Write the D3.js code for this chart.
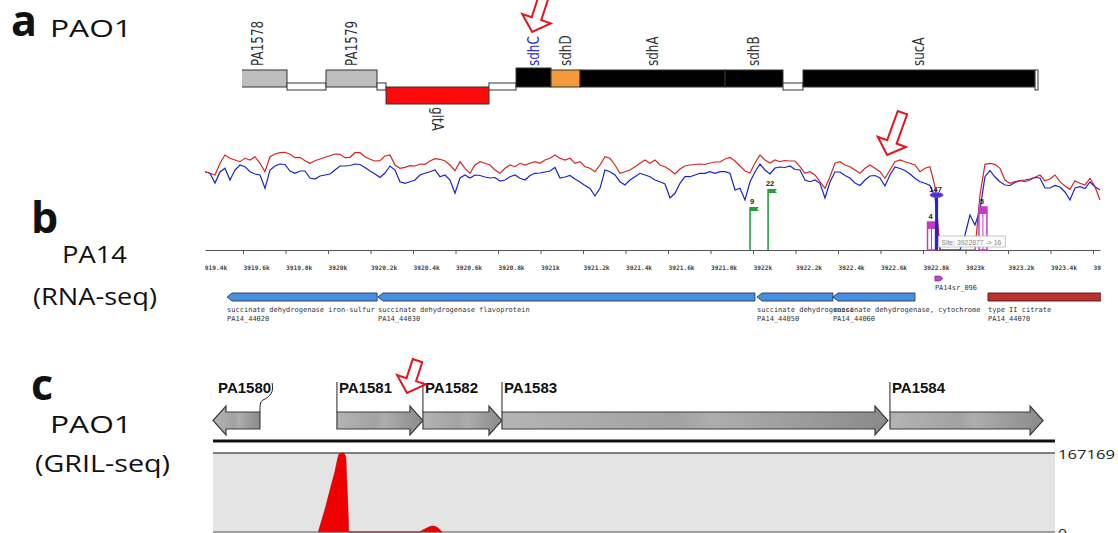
<!DOCTYPE html>
<html>
<head>
<meta charset="utf-8">
<script src="https://cdn.jsdelivr.net/npm/d3@7"></script>
<style>
  html, body { margin: 0; padding: 0; background: #fff; }
  svg { display: block; }
</style>
</head>
<body>
<svg id="fig" width="1118" height="533"></svg>
<script>
// ===== Panel a: PAO1 locus (bp from the left edge of the window) =====
const locusNames  = ["PA1578", "", "PA1579", "", "gltA", "", "sdhC", "sdhD", "sdhA", "sdhB", "", "sucA", ""];
const locusStart  = [-180, 549, 1025, 1647, 1757, 3013, 3343, 3770, 4124, 5893, 6600, 6844, 9675];
const locusEnd    = [549, 1025, 1647, 1757, 3013, 3343, 3770, 4124, 5893, 6600, 6844, 9675, 9711];
const locusStrand = ["+", "ig", "+", "ig", "-", "ig", "+", "+", "+", "+", "ig", "+", "end"];
const locusMarked = "sdhC";

// ===== Panel b: PA14 RNA-seq coverage (two libraries) =====
const covStart = 3919421;   // first sampled coordinate (bp)
const covStep  = 23.53;     // bp between samples
const covRed = [
  78.3, 76.7, 75, 86.7, 95, 91.7, 90, 88.3, 91.7, 90,
  93.3, 86.7, 78.3, 93.3, 96, 97.3, 97.7, 95.7, 92.3, 92.7,
  89.3, 86.7, 89.3, 91, 92.7, 94.3, 96, 95.7, 92.3, 92.7,
  97.3, 97.3, 93.3, 90.7, 89, 89.3, 94, 95, 85, 81.7,
  82.7, 84.3, 84, 86, 85.7, 89, 91.3, 90.7, 89, 85,
  79.3, 88.3, 81.7, 76.7, 85, 88.3, 86.7, 85, 80, 76.7,
  81.7, 85, 83.3, 86.7, 85, 86.7, 88.3, 86.7, 90, 91.7,
  95, 91.7, 90, 91.7, 86.7, 88.3, 83.3, 81.7, 78.3, 85,
  93.3, 91.7, 85, 76.7, 78.3, 80, 83.3, 86.7, 90, 86.7,
  90, 85, 83.3, 80, 76, 81, 84, 85, 85.5, 86,
  85.5, 87, 88, 88, 91, 92.5, 89, 84, 79, 77,
  87, 95, 90, 87, 90, 88.3, 89.5, 89, 89, 83.3,
  76.7, 78.3, 75, 68.3, 61.7, 73.3, 86.7, 88.3, 85, 83.3,
  80, 76.7, 81.7, 85, 81.7, 78.3, 71.7, 80, 88.3, 90,
  88.3, 86.7, 85, 78.3, 81.7, 83.3, 63.3, 0, 0, 0,
  0, 0, 0, 0, 0, 55, 85.7, 86.7, 85.7, 81.7,
  70, 66.7, 68.3, 69.3, 68.3, 70, 72.7, 75, 69.3, 71,
  75, 68.3, 64, 60.7, 69.3, 66.7, 65, 71.7, 63.3, 50
];
const covBlue = [
  78.3, 76.7, 67, 78, 81.7, 70, 80, 85, 83.3, 78.3,
  76, 75, 61.7, 80, 84, 86, 85.5, 79, 76.7, 79,
  79, 72, 71, 74, 75, 76, 80, 84, 84, 84.5,
  86, 85.5, 82.5, 79, 76, 72.5, 77, 84, 80, 68.3,
  66.7, 68.3, 70, 75, 76.7, 78.3, 80, 73.3, 75, 70,
  56.7, 72, 75, 72, 75, 74.5, 73, 72, 72.5, 69,
  70, 73.3, 75, 71.7, 70, 74.5, 76.7, 77, 78, 79,
  82.5, 72, 73, 74.5, 71, 68, 64.5, 61.5, 54, 61.7,
  80, 78.3, 75, 68.3, 65, 70, 73.3, 76.7, 75, 73.3,
  70, 68.3, 66, 52, 56.7, 66.7, 73.3, 73.3, 75, 76.7,
  76.7, 78.3, 76.7, 78.3, 78.3, 76.7, 60, 61.7, 50, 68,
  78, 86, 80, 76, 82, 83, 82.5, 84, 80.5, 80,
  70, 68.3, 70, 66.7, 52, 68, 78, 78, 74.5, 72,
  67, 64.5, 70, 74, 74.5, 72, 64, 75, 83, 81.5,
  79.5, 76, 71.7, 68.3, 66.7, 64.5, 53.3, 0, 0, 0,
  0, 0, 15, 35, 25, 40, 73.3, 79.5, 73, 68.3,
  65, 64.5, 67.5, 69.5, 70, 71, 72.5, 72, 62, 62,
  64.5, 63, 58, 50, 62, 63.3, 61.5, 68, 63.3, 60
];
const coordTicks = [3919400, 3919600, 3919800, 3920000, 3920200, 3920400, 3920600,
  3920800, 3921000, 3921200, 3921400, 3921600, 3921800, 3922000, 3922200, 3922400,
  3922600, 3922800, 3923000, 3923200, 3923400, 3923600];

// read-start sites: position, label, stem height (coverage units), kind
const sitePos    = [3921986, 3922071, 3922840, 3922864, 3923082];
const siteLabel  = ["9", "22", "4", "147", "5"];
const siteHeight = [43, 61, 28, 55, 43];
const siteKind   = ["fwd", "fwd", "rev", "peak", "rev"];
const hoverSite  = "Site: 3922877 -> 16";

// annotated PA14 genes
const pa14Id     = ["PA14_44020", "PA14_44030", "PA14_44050", "PA14_44060", "PA14_44070"];
const pa14Desc   = ["succinate dehydrogenase iron-sulfur", "succinate dehydrogenase flavoprotein",
                    "succinate dehydrogenase", "succinate dehydrogenase, cytochrome", "type II citrate"];
const pa14Start  = [3919525, 3920235, 3922019, 3922376, 3923106];
const pa14End    = [3920231, 3922009, 3922376, 3922762, 3924300];
const pa14Strand = ["-", "-", "-", "-", "+"];
const srnaId = "PA14sr_096", srnaStart = 3922856, srnaEnd = 3922894;

// ===== Panel c: PAO1 GRIL-seq (bp from the left edge of the window) =====
const grilGenes  = ["PA1580", "PA1581", "PA1582", "PA1583", "PA1584"];
const grilStart  = [0, 552, 935, 1287, 3015];
const grilEnd    = [209, 935, 1287, 3006, 3697];
const grilStrand = ["-", "+", "+", "+", "+"];
const grilPos    = [469, 506, 529, 543, 554, 562, 580, 591, 595, 600, 606, 913, 944, 980, 1002, 1020];
const grilReads  = [0, 60730, 103050, 127600, 152360, 165050, 167169, 159350, 117020, 60730, 0,
                    0, 6350, 12700, 8460, 0];
const grilMax = 167169;

// ---------------------------------------------------------------
const svg = d3.select("#fig");
const defs = svg.append("defs");

// ---------- panel labels ----------
const sideFont = "'Open Sans', 'DejaVu Sans', sans-serif";
const letters = [["a", 11, 36], ["b", 31, 233], ["c", 31, 400]];
letters.forEach(([t, x, y]) => svg.append("text").attr("x", x).attr("y", y)
  .attr("font-family", sideFont).attr("font-weight", 700).attr("font-size", 43)
  .attr("fill", "#111").text(t));
const sideLabels = [["PAO1", 50, 37, 82], ["PA14", 62, 263, 65], ["(RNA-seq)", 33, 305, 124],
                    ["PAO1", 50, 433, 82], ["(GRIL-seq)", 35, 472, 135]];
sideLabels.forEach(([t, x, y, w]) => svg.append("text").attr("x", x).attr("y", y)
  .attr("font-family", sideFont).attr("font-size", 24).attr("fill", "#111")
  .attr("textLength", w).attr("lengthAdjust", "spacingAndGlyphs").text(t));

// ---------- panel a ----------
const xA = d3.scaleLinear().domain([0, 9711]).range([242, 1038]);
defs.append("clipPath").attr("id", "clipA").append("rect")
  .attr("x", 242).attr("y", 0).attr("width", 800).attr("height", 140);
const gA = svg.append("g").attr("clip-path", "url(#clipA)");
const fillA = { PA1578: "#bdbdbd", PA1579: "#bdbdbd", gltA: "#ff0a0a", sdhC: "#000",
                sdhD: "#f59a3a", sdhA: "#000", sdhB: "#000", sucA: "#000" };
const bandA = { "+": [70, 17], "-": [87, 17], "ig": [83, 7], "end": [70, 20] };
const locus = locusNames.map((n, i) => ({ n, s: locusStart[i], e: locusEnd[i], k: locusStrand[i] }));
gA.selectAll("rect.seg").data(locus).join("rect").attr("class", "seg")
  .attr("x", d => xA(d.s)).attr("width", d => xA(d.e) - xA(d.s))
  .attr("y", d => d.n === locusMarked ? 68 : bandA[d.k][0])
  .attr("height", d => d.n === locusMarked ? 19 : bandA[d.k][1])
  .attr("fill", d => d.n ? fillA[d.n] : "#fff")
  .attr("stroke", "#333").attr("stroke-width", 1);

const labelFontA = "'DejaVu Sans', Verdana, sans-serif";
locus.filter(d => d.n).forEach(d => {
  const cx = (Math.max(xA(d.s), xA(-180)) + xA(d.e)) / 2;
  const fwd = d.k === "+";
  svg.append("text")
    .attr("transform", fwd ? `translate(${cx},66) scale(1.3,1) rotate(-90)`
                           : `translate(${cx},107) scale(1.3,1) rotate(90)`)
    .attr("dy", "0.35em").attr("text-anchor", "start")
    .attr("font-family", labelFontA).attr("font-size", 12)
    .attr("fill", d.n === locusMarked ? "#2a2ad6" : "#333").text(d.n);
});

// ---------- panel b ----------
const xB = d3.scaleLinear().domain([3919421, 3923633]).range([205, 1100]);
const yB = d3.scaleLinear().domain([0, 110]).range([250, 140]);
defs.append("clipPath").attr("id", "clipB").append("rect")
  .attr("x", 205).attr("y", 100).attr("width", 896).attr("height", 240);
const gB = svg.append("g").attr("clip-path", "url(#clipB)");

const covPos = covRed.map((_, i) => covStart + i * covStep);
const covLine = d3.line().x((d, i) => xB(covPos[i])).y(d => yB(d));
gB.append("path").datum(covBlue).attr("d", covLine)
  .attr("fill", "none").attr("stroke", "#1c22c9").attr("stroke-width", 1.2);
gB.append("path").datum(covRed).attr("d", covLine)
  .attr("fill", "none").attr("stroke", "#d11a1a").attr("stroke-width", 1.2).attr("opacity", 0.95);

// coordinate axis
const axB = gB.append("g").attr("transform", "translate(0,250)")
  .call(d3.axisBottom(xB).tickValues(coordTicks).tickSize(4).tickSizeOuter(0)
    .tickFormat(v => `${+(v / 1000).toFixed(1)}k`));
axB.select(".domain").attr("stroke", "#555");
axB.selectAll(".tick line").attr("stroke", "#555");
axB.selectAll(".tick text").attr("text-anchor", "start").attr("y", 20).attr("dy", 0)
  .attr("font-family", "'DejaVu Sans Mono', monospace").attr("font-weight", 700)
  .attr("font-size", 6.2).attr("fill", "#444");

// read-start sites
const siteColor = { fwd: "#22a043", rev: "#c23cc8", peak: "#2424c8" };
sitePos.forEach((p, i) => {
  const x = xB(p), top = yB(siteHeight[i]), k = siteKind[i], c = siteColor[k];
  if (k === "fwd") {
    gB.append("line").attr("x1", x).attr("x2", x).attr("y1", yB(0)).attr("y2", top)
      .attr("stroke", c).attr("stroke-width", 1.6);
    gB.append("path").attr("d", `M${x},${top}h9l-2,2l2,2h-9z`).attr("fill", c);
  } else if (k === "rev") {
    gB.append("rect").attr("x", x - 4).attr("y", top).attr("width", 8).attr("height", yB(0) - top)
      .attr("fill", "none").attr("stroke", c).attr("stroke-width", 1.5);
    gB.append("rect").attr("x", x - 4).attr("y", top).attr("width", 8).attr("height", 7).attr("fill", c);
    gB.append("line").attr("x1", x).attr("x2", x).attr("y1", top).attr("y2", yB(0))
      .attr("stroke", c).attr("stroke-width", 1);
  } else {
    gB.append("rect").attr("x", x - 1.5).attr("y", top).attr("width", 3).attr("height", yB(0) - top).attr("fill", c);
    gB.append("ellipse").attr("cx", x).attr("cy", top).attr("rx", 6.5).attr("ry", 2.5)
      .attr("fill", "#3a3ad8").attr("stroke", "#b040c8").attr("stroke-width", 0.8);
  }
  gB.append("text").attr("x", x + (k === "fwd" ? 2 : -1)).attr("y", top - 3)
    .attr("text-anchor", "middle").attr("font-family", "'Liberation Sans', Arial, sans-serif")
    .attr("font-weight", 700).attr("font-size", 7.5).attr("fill", "#222").text(siteLabel[i]);
});

// hover read-out box
const hoverX = xB(3922877) - 1;
gB.append("rect").attr("x", hoverX).attr("y", 236).attr("width", 67).attr("height", 11)
  .attr("fill", "#fbfbfb").attr("stroke", "#b8b8b8").attr("stroke-width", 0.8);
gB.append("text").attr("x", hoverX + 3).attr("y", 244.5)
  .attr("font-family", "'Liberation Sans', Arial, sans-serif").attr("font-size", 7)
  .attr("fill", "#8a8a8a").attr("textLength", 60).attr("lengthAdjust", "spacingAndGlyphs").text(hoverSite);

// gene arrows
function geneArrow(x0, x1, top, h, strand, head) {
  const m = top + h / 2, b = top + h;
  return strand === "+"
    ? `M${x0},${top}H${x1 - head}L${x1},${m}L${x1 - head},${b}H${x0}Z`
    : `M${x0},${m}L${x0 + head},${top}H${x1}V${b}H${x0 + head}Z`;
}
const geneFont = "'DejaVu Sans Mono', monospace";
pa14Id.forEach((id, i) => {
  const x0 = xB(pa14Start[i]), x1 = xB(pa14End[i]);
  const fwd = pa14Strand[i] === "+";
  gB.append("path").attr("d", geneArrow(x0, x1, 293, 8, pa14Strand[i], 5))
    .attr("fill", fwd ? "#b83232" : "#4a8ee0").attr("stroke", fwd ? "#5a1010" : "#1f3d66")
    .attr("stroke-width", 0.9);
  gB.append("text").attr("x", x0).attr("y", 311.5).attr("font-family", geneFont)
    .attr("font-size", 7).attr("fill", "#333").text(pa14Desc[i]);
  gB.append("text").attr("x", x0).attr("y", 320.5).attr("font-family", geneFont)
    .attr("font-size", 7).attr("fill", "#333").text(id);
});
gB.append("path").attr("d", geneArrow(xB(srnaStart), xB(srnaEnd), 276, 5, "+", 3))
  .attr("fill", "#c044c8").attr("stroke", "#702070").attr("stroke-width", 0.6);
gB.append("text").attr("x", xB(srnaStart)).attr("y", 289.5).attr("font-family", geneFont)
  .attr("font-size", 7).attr("fill", "#333").text(srnaId);

// ---------- panel c ----------
const xC = d3.scaleLinear().domain([0, 3750]).range([213, 1055]);
const yC = d3.scaleLinear().domain([0, grilMax]).range([532, 453]);

const grad = defs.append("linearGradient").attr("id", "geneGrey")
  .attr("x1", "0%").attr("x2", "100%").attr("y1", "0%").attr("y2", "0%");
[["0%", "#b4b4b4"], ["45%", "#a2a2a2"], ["55%", "#adadad"], ["100%", "#8a8a8a"]]
  .forEach(([o, c]) => grad.append("stop").attr("offset", o).attr("stop-color", c));

const labelFontC = "'Liberation Sans', Arial, sans-serif";
grilGenes.forEach((g, i) => {
  const x0 = xC(grilStart[i]), x1 = xC(grilEnd[i]), fwd = grilStrand[i] === "+";
  const top = 412, b = 429, m = 420.5, ht = 406, hb = 435, head = 13;
  const d = fwd
    ? `M${x0},${top}H${x1 - head}V${ht}L${x1},${m}L${x1 - head},${hb}V${b}H${x0}Z`
    : `M${x0},${m}L${x0 + head},${ht}V${top}H${x1}V${b}H${x0 + head}V${hb}Z`;
  svg.append("path").attr("d", d).attr("fill", "url(#geneGrey)")
    .attr("stroke", "#3c3c3c").attr("stroke-width", 1.2);
  if (fwd) {
    svg.append("line").attr("x1", x0).attr("x2", x0).attr("y1", 382).attr("y2", top)
      .attr("stroke", "#222").attr("stroke-width", 1);
    svg.append("text").attr("x", x0 + 2).attr("y", 393).attr("font-family", labelFontC)
      .attr("font-weight", 700).attr("font-size", 15).attr("fill", "#111").text(g);
  } else {
    const t = svg.append("text").attr("x", x0 + 5).attr("y", 393).attr("font-family", labelFontC)
      .attr("font-weight", 700).attr("font-size", 15).attr("fill", "#111").text(g);
    const ex = x0 + 5 + t.node().getComputedTextLength() + 1;
    svg.append("path")
      .attr("d", `M${ex},383C${ex + 2},392 ${ex - 2},397 ${x1 + 3},400C${x1},402 ${x1},405 ${x1},${top}`)
      .attr("fill", "none").attr("stroke", "#222").attr("stroke-width", 1);
  }
});

// gene/track divider and the GRIL-seq read track
svg.append("line").attr("x1", xC(0)).attr("x2", xC(3750)).attr("y1", 441).attr("y2", 441)
  .attr("stroke", "#111").attr("stroke-width", 3);
svg.append("rect").attr("x", xC(0)).attr("y", yC(grilMax)).attr("width", xC(3750) - xC(0))
  .attr("height", 533 - yC(grilMax)).attr("fill", "#e4e4e4");
svg.append("line").attr("x1", xC(0)).attr("x2", xC(3750)).attr("y1", yC(grilMax)).attr("y2", yC(grilMax))
  .attr("stroke", "#5a5a5a").attr("stroke-width", 1.5);
svg.append("path").datum(grilReads)
  .attr("d", d3.area().x((d, i) => xC(grilPos[i])).y0(yC(0)).y1(d => yC(d)).curve(d3.curveMonotoneX))
  .attr("fill", "#ee0000").attr("stroke", "#c00000").attr("stroke-width", 0.6);
svg.append("line").attr("x1", xC(0)).attr("x2", xC(3750)).attr("y1", yC(0)).attr("y2", yC(0))
  .attr("stroke", "#5a5a5a").attr("stroke-width", 1);
const yTicksC = [grilMax, 0];
yTicksC.forEach(v => svg.append("text").attr("x", 1058).attr("y", yC(v) + (v ? 5.5 : 6))
  .attr("font-family", sideFont).attr("font-size", 13.5).attr("fill", "#222")
  .attr("textLength", v ? 57 : 9).attr("lengthAdjust", "spacingAndGlyphs").text(v));

// ---------- call-out arrows ----------
function hollowArrow(tipX, tipY, angle, len) {
  const p = [[0, 0], [-15, -14], [-5, -14], [-5, -len], [5, -len], [5, -14], [15, -14]];
  svg.append("path").attr("d", "M" + p.join("L") + "Z")
    .attr("transform", `translate(${tipX},${tipY}) rotate(${angle})`)
    .attr("fill", "#fff").attr("stroke", "#e3161b").attr("stroke-width", 2)
    .attr("stroke-linejoin", "miter");
}
hollowArrow(xA(3540), 32, 18, 50);
hollowArrow(xB(3922631), 155, 20, 45);
hollowArrow(xC(864), 393, 18, 34);
</script>
</body>
</html>
